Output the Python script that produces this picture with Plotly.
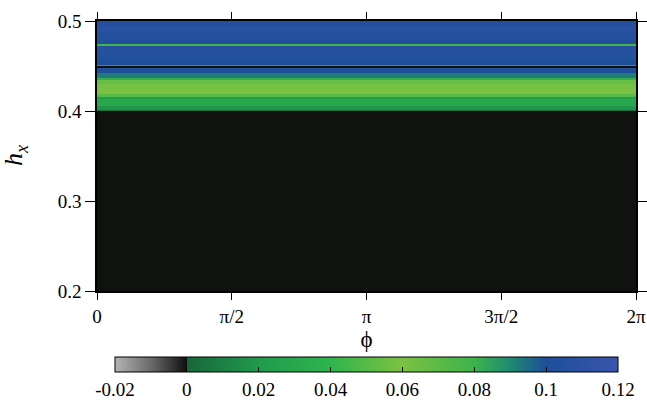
import math
import plotly.graph_objects as go

# ---- data ----
phi_edges = [0.0, math.pi, 2 * math.pi]
hx_edges = [0.2, 0.4, 0.401, 0.4055, 0.4135, 0.4155, 0.419, 0.425, 0.430, 0.434,
            0.437, 0.4425, 0.446, 0.4483, 0.4505, 0.4516, 0.456, 0.462, 0.4718,
            0.4740, 0.480, 0.488, 0.494, 0.5]
hx_values = [-0.0002, 0.004, 0.018, 0.030, 0.022, 0.050, 0.060, 0.062, 0.055, 0.082,
             0.092, 0.100, 0.104, -0.0002, 0.085, 0.100, 0.103, 0.106, 0.078,
             0.102, 0.105, 0.108, 0.104]
x_tickvals = [0, math.pi / 2, math.pi, 3 * math.pi / 2, 2 * math.pi]
x_ticktext = ["0", "π/2", "π", "3π/2", "2π"]
y_tickvals = [0.2, 0.3, 0.4, 0.5]
cb_tickvals = [-0.02, 0, 0.02, 0.04, 0.06, 0.08, 0.1, 0.12]
cb_ticktext = ["-0.02", "0", "0.02", "0.04", "0.06", "0.08", "0.1", "0.12"]

z = [[v, v] for v in hx_values]

colorscale = [
    [0.0, "#b4b4b4"],
    [0.0714, "#6a6a6a"],
    [0.142857, "#0e100e"],
    [0.142857, "#17663a"],
    [0.285714, "#219a4c"],
    [0.428571, "#2fb44e"],
    [0.571429, "#7cc142"],
    [0.714286, "#3db34b"],
    [0.785714, "#1f8a6f"],
    [0.857143, "#1d4f99"],
    [1.0, "#3a55ae"],
]

FONT = "'Liberation Serif', 'Times New Roman', 'DejaVu Serif', serif"

fig = go.Figure(go.Heatmap(
    x=phi_edges, y=hx_edges, z=z,
    zmin=-0.02, zmax=0.12, zsmooth=False,
    colorscale=colorscale,
    colorbar=dict(
        orientation="h",
        x=0.5, xanchor="center",
        y=-0.2444, yanchor="top",
        lenmode="pixels", len=503,
        thickness=15, thicknessmode="pixels",
        outlinecolor="black", outlinewidth=1,
        ticks="inside", ticklen=5, tickcolor="black", tickwidth=1,
        tickvals=cb_tickvals, ticktext=cb_ticktext,
        tickfont=dict(family=FONT, size=19, color="black"),
        xpad=0, ypad=0,
    ),
))

fig.update_layout(
    width=647, height=405,
    margin=dict(l=97, r=11, t=21, b=114, autoexpand=False),
    paper_bgcolor="white", plot_bgcolor="white",
    font=dict(family=FONT, color="black"),
    annotations=[dict(
        text="<i>h<sub>x</sub></i>", textangle=-90,
        xref="paper", yref="paper", x=-0.152, y=0.5,
        xanchor="center", yanchor="middle", showarrow=False,
        font=dict(family=FONT, size=26, color="black"),
    )],
)
fig.update_xaxes(
    range=[0, 2 * math.pi],
    tickvals=x_tickvals, ticktext=x_ticktext,
    ticks="outside", ticklen=7, tickcolor="black",
    showline=True, linecolor="black", linewidth=1.5, mirror="ticks",
    showgrid=False, zeroline=False,
    tickfont=dict(family=FONT, size=19),
    title=dict(text="ϕ", font=dict(family=FONT, size=23), standoff=5),
)
fig.update_yaxes(
    range=[0.2, 0.5],
    tickvals=y_tickvals,
    ticks="outside", ticklen=10, tickcolor="black",
    showline=True, linecolor="black", linewidth=1.5, mirror="ticks",
    showgrid=False, zeroline=False,
    tickfont=dict(family=FONT, size=19),
    ticksuffix="\u2003",
)

fig.write_html(
    "out.html",
    config={"displayModeBar": False},
    post_script="document.body.style.margin='0';document.body.style.padding='0';",
)
